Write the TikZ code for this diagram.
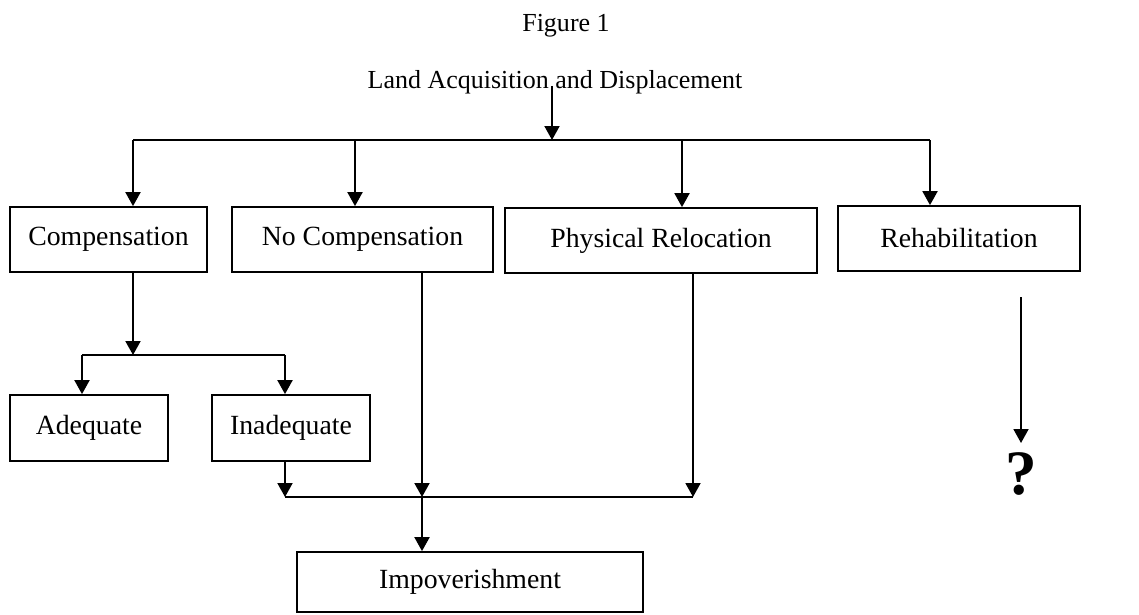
\documentclass[tikz,border=0pt]{standalone}
\usepackage{fontspec}
\setmainfont{Liberation Serif}
\usetikzlibrary{arrows.meta,positioning}

\tikzset{
  box/.style={draw,line width=1pt,inner sep=0pt,minimum height=1.3cm},
  flow/.style={line width=1.1pt},
  heading/.style={font=\fontsize{14.8}{18}\selectfont}
}

\begin{document}
\begin{tikzpicture}[>={Triangle[length=2.8mm,width=3mm]},x=0.02cm,y=-0.02cm,
  font=\fontsize{15.8}{18}\selectfont]
\useasboundingbox (0,0) rectangle (1139,615);
% titles
\node[heading] (fig) at (566,26) {Figure 1};
\node[heading] (lad) at (555,82) {Land Acquisition and Displacement};
% first row
\node[box,minimum width=3.94cm] (comp) at (108.5,239.5) {Compensation};
\node[box,minimum width=5.22cm] (nocomp) at (362.5,239.5) {No Compensation};
\node[box,minimum width=6.24cm] (reloc) at (661,240.5) {Physical Relocation};
\node[box,minimum width=4.84cm] (rehab) at (959,238.5) {Rehabilitation};
% second row
\node[box,minimum width=3.16cm,minimum height=1.32cm] (adeq) at (89,428) {Adequate};
\node[box,minimum width=3.16cm,minimum height=1.32cm] (inadeq) at (291,428) {Inadequate};
\node[box,minimum width=6.92cm,minimum height=1.2cm] (impov) at (470,582) {Impoverishment};
\node[font=\fontsize{36}{36}\selectfont\bfseries,anchor=north,inner xsep=0pt,inner ysep=5pt]
  (qm) at (1021,443) {?};
% top bus
\coordinate (src) at (552,86);
\coordinate (hub) at (552,140);
\draw[flow,->] (src) -- (hub);
\foreach \b/\x in {comp/133,nocomp/355,reloc/682,rehab/930}
  {\coordinate (t-\b) at (\x,140);
   \draw[flow,->] (t-\b) -- (t-\b |- \b.north);}
\draw[flow] (t-comp) -- (t-rehab);
% compensation split
\coordinate (csplit) at (133,355);
\coordinate (sL) at (82,355);
\coordinate (sR) at (285,355);
\draw[flow,->] (comp.south -| csplit) -- (csplit);
\draw[flow] (sL) -- (sR);
\draw[flow,->] (sL) -- (sL |- adeq.north);
\draw[flow,->] (sR) -- (sR |- inadeq.north);
% into impoverishment
\coordinate (jL) at (285,497);
\coordinate (join) at (422,497);
\coordinate (jR) at (693,497);
\draw[flow,->] (inadeq.south -| jL) -- (jL);
\draw[flow,->] (nocomp.south -| join) -- (join);
\draw[flow,->] (reloc.south -| jR) -- (jR);
\draw[flow] (jL) -- (jR);
\draw[flow,->] (join) -- (join |- impov.north);
% rehabilitation
\coordinate (rs) at (1021,297);
\draw[flow,->] (rs) -- (qm.north);
\end{tikzpicture}
\end{document}
